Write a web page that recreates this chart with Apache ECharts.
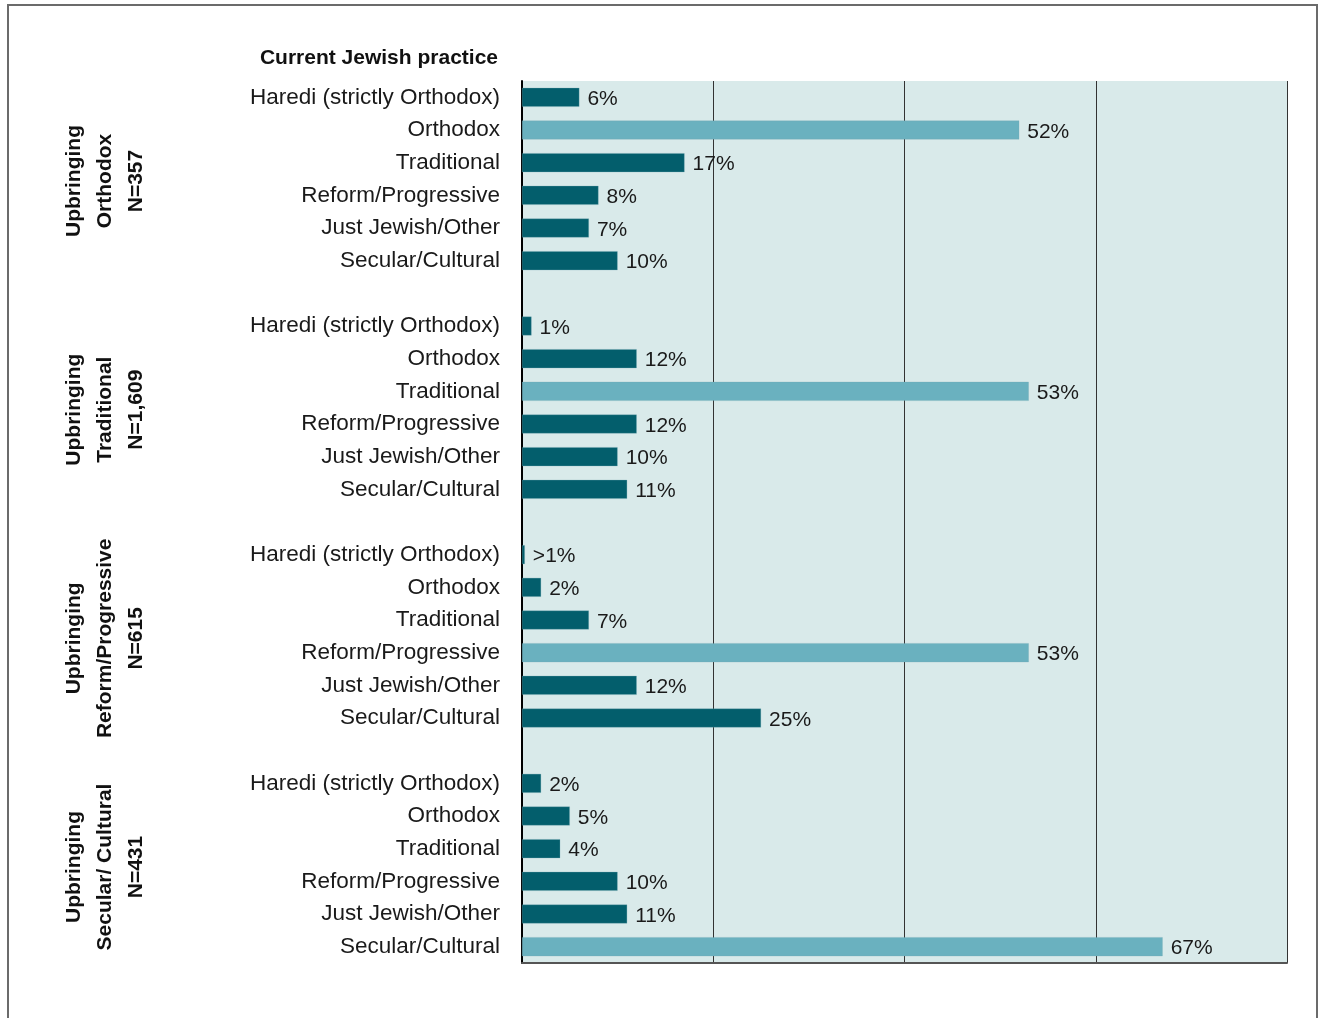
<!DOCTYPE html>
<html>
<head>
<meta charset="utf-8">
<script src="https://cdn.jsdelivr.net/npm/echarts@6/dist/echarts.min.js"></script>
<style>
html,body{margin:0;padding:0;background:#fff;}
#chart{width:1320px;height:1018px;}
</style>
</head>
<body>
<div id="chart"></div>
<script>
// Current practice categories (same in every upbringing group)
const practices = ['Haredi (strictly Orthodox)', 'Orthodox', 'Traditional', 'Reform/Progressive', 'Just Jewish/Other', 'Secular/Cultural'];
// Upbringing groups
const groupNames = ['Orthodox', 'Traditional', 'Reform/Progressive', 'Secular/ Cultural'];
const groupN = ['N=357', 'N=1,609', 'N=615', 'N=431'];
// Matching (highlighted) current practice per group
const highlightPractice = ['Orthodox', 'Traditional', 'Reform/Progressive', 'Secular/Cultural'];
// Values (%)
const orthodoxUpbringing = [6, 52, 17, 8, 7, 10];
const traditionalUpbringing = [1, 12, 53, 12, 10, 11];
const reformUpbringing = [0.3, 2, 7, 53, 12, 25];
const secularUpbringing = [2, 5, 4, 10, 11, 67];
const groupValues = [orthodoxUpbringing, traditionalUpbringing, reformUpbringing, secularUpbringing];
// Axis ticks
const xMin = 0, xMax = 80, xInterval = 20;

const DARK = '#035e6c', LIGHT = '#6ab1bf';
const FONT = '"Liberation Sans", Arial, sans-serif';

// Build category list with one blank row between groups
const cats = [];
const data = [];
groupValues.forEach((vals, g) => {
  if (g > 0) { cats.push(' '.repeat(g)); data.push(null); }
  vals.forEach((v, i) => {
    cats.push(practices[i] + '\u200b'.repeat(g));
    data.push({
      value: v,
      itemStyle: { color: practices[i] === highlightPractice[g] ? LIGHT : DARK }
    });
  });
});

const chart = echarts.init(document.getElementById('chart'), null, { renderer: 'canvas' });

const option = {
  animation: false,
  backgroundColor: '#fff',
  grid: {
    left: 522, right: 33, top: 81, bottom: 55,
    show: true, backgroundColor: '#d9eaea', borderWidth: 0
  },
  xAxis: {
    type: 'value', min: xMin, max: xMax, interval: xInterval,
    axisLabel: { show: false },
    axisTick: { show: false },
    axisLine: { show: true, lineStyle: { color: '#555', width: 2 } },
    splitLine: { show: true, lineStyle: { color: '#333', width: 1 } }
  },
  yAxis: {
    type: 'category', inverse: true, data: cats,
    axisTick: { show: false },
    axisLine: { show: true, lineStyle: { color: '#000', width: 2 } },
    axisLabel: {
      margin: 22, color: '#1a1a1a', fontSize: 22.5, fontFamily: FONT,
      padding: [5, 0, 0, 0],
      formatter: v => v.replace(/\u200b/g, '').trim()
    }
  },
  series: [{
    type: 'bar',
    data: data,
    barWidth: 19,
    itemStyle: { borderColor: 'rgba(120,170,180,0.6)', borderWidth: 0.5 },
    label: {
      show: true, position: 'right', distance: 8, offset: [0, 2],
      color: '#1a1a1a', fontSize: 21, fontFamily: FONT,
      formatter: p => (p.value < 1 ? '>1' : p.value) + '%'
    }
  }],
  graphic: []
};

chart.setOption(option);

// Group labels and decorations
const graphics = [
  {
    type: 'rect', silent: true,
    shape: { x: 8, y: 5, width: 1309, height: 1100 },
    style: { fill: 'none', stroke: '#6b6b6b', lineWidth: 2 }
  },
  {
    type: 'text', x: 498, y: 58,
    style: {
      text: 'Current Jewish practice', align: 'right', verticalAlign: 'middle',
      font: 'bold 21px ' + FONT, fill: '#111'
    }
  }
];
groupValues.forEach((vals, g) => {
  const firstIdx = g * 7;
  const y0 = chart.convertToPixel({ yAxisIndex: 0 }, firstIdx);
  const y1 = chart.convertToPixel({ yAxisIndex: 0 }, firstIdx + vals.length - 1);
  graphics.push({
    type: 'text', x: 105, y: (y0 + y1) / 2 + 2, rotation: Math.PI / 2,
    style: {
      text: 'Upbringing\n' + groupNames[g] + '\n' + groupN[g],
      align: 'center', verticalAlign: 'middle', lineHeight: 31,
      font: 'bold 21px ' + FONT, fill: '#111'
    }
  });
});
chart.setOption({ graphic: graphics });
</script>
</body>
</html>
